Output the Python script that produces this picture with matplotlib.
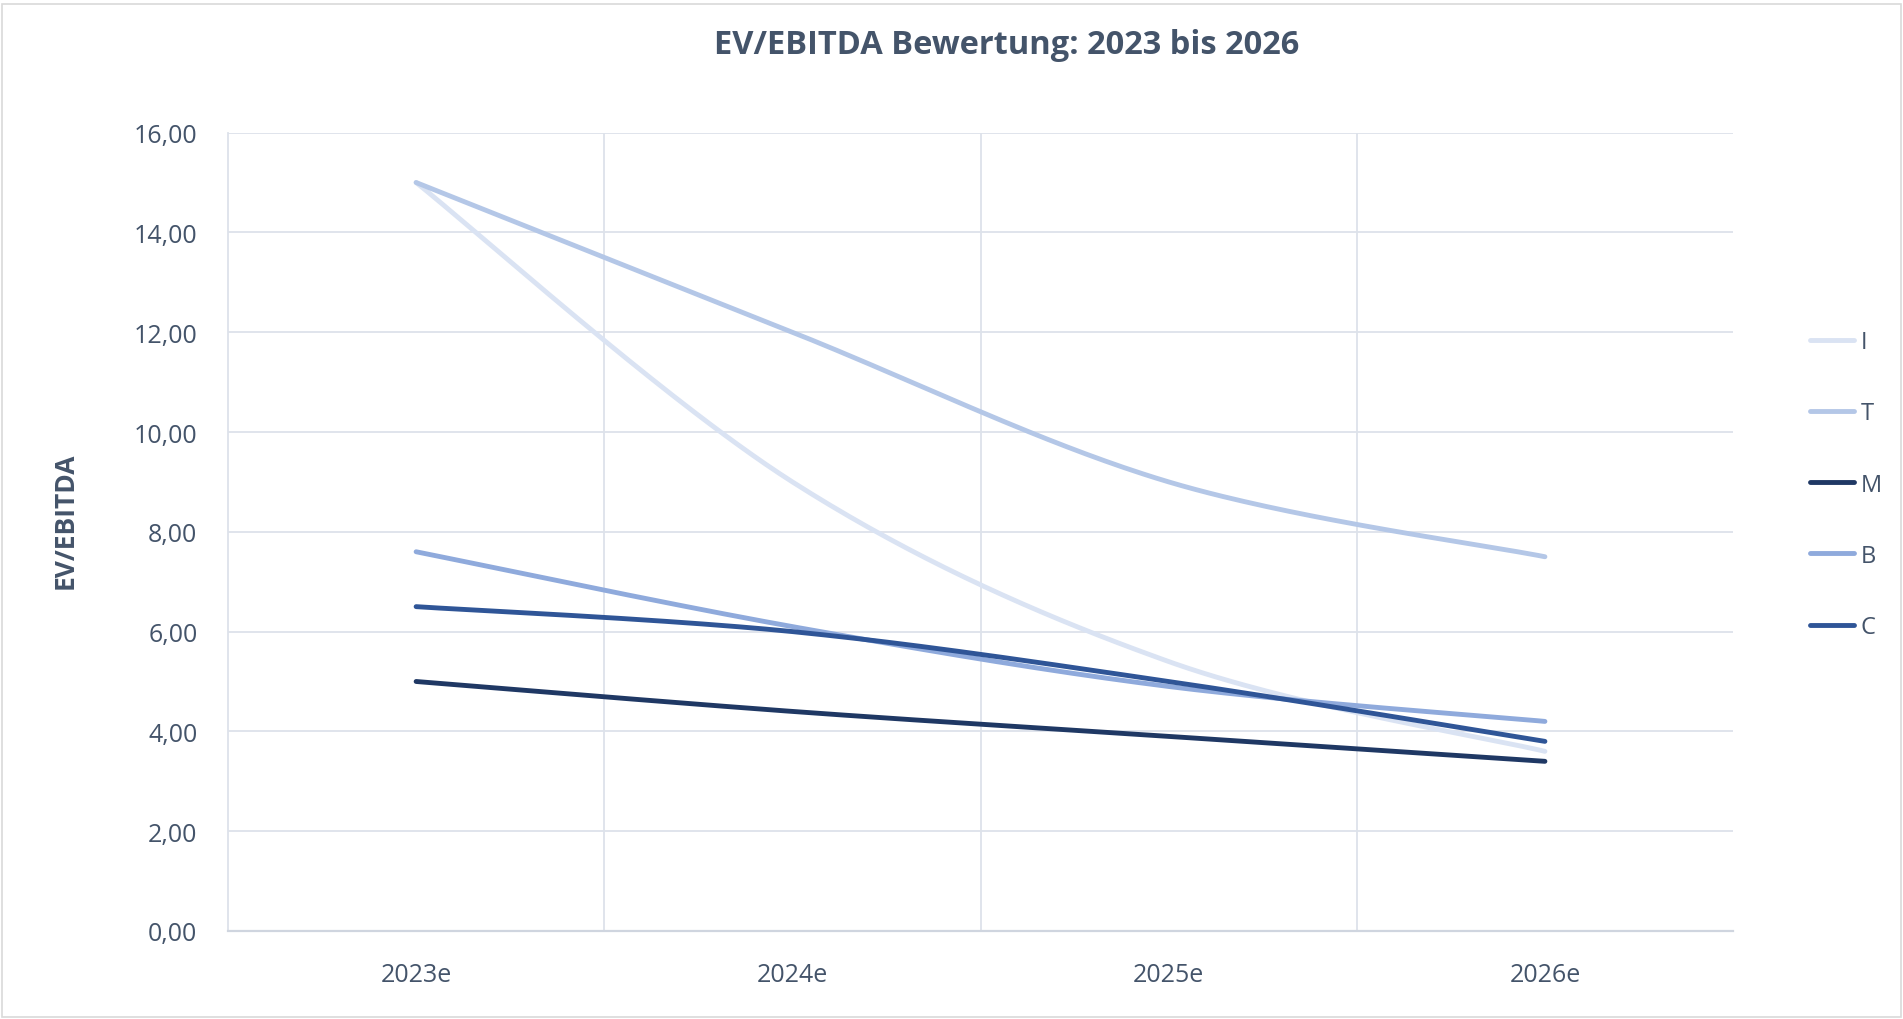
import numpy as np
import matplotlib
matplotlib.use("Agg")
import matplotlib.pyplot as plt
from matplotlib.patches import Rectangle

years = ["2023e", "2024e", "2025e", "2026e"]
series_names = ["I", "T", "M", "B", "C"]
i_vals = [15.0, 9.0, 5.4, 3.6]
t_vals = [15.0, 12.0, 9.0, 7.5]
m_vals = [5.0, 4.4, 3.9, 3.4]
b_vals = [7.6, 6.1, 4.9, 4.2]
c_vals = [6.5, 6.0, 5.0, 3.8]
colors = ["#DAE3F3", "#B4C7E7", "#1F3864", "#8FAADC", "#2F5597"]

text_col = "#44546A"
grid_col = "#DDE2EA"
font = ["Open Sans", "DejaVu Sans"]
plt.rcParams['font.family'] = font


def smooth(xs, ys, n=60):
    # excel style smoothed line: bezier with catmull-rom tangents
    xs = np.asarray(xs, float)
    ys = np.asarray(ys, float)
    pts = np.column_stack([xs, ys])
    out = []
    for k in range(len(pts) - 1):
        p0 = pts[k - 1] if k > 0 else pts[k]
        p1 = pts[k]
        p2 = pts[k + 1]
        p3 = pts[k + 2] if k + 2 < len(pts) else pts[k + 1]
        c1 = p1 + (p2 - p0) / 6
        c2 = p2 - (p3 - p1) / 6
        t = np.linspace(0, 1, n)[:, None]
        seg = ((1 - t) ** 3) * p1 + 3 * ((1 - t) ** 2) * t * c1 + 3 * (1 - t) * t ** 2 * c2 + t ** 3 * p2
        out.append(seg if k == 0 else seg[1:])
    out = np.vstack(out)
    return out[:, 0], out[:, 1]


fig = plt.figure(figsize=(19.03, 10.2), dpi=100)
ax = fig.add_axes([0.1198, 0.0863, 0.7909, 0.7827])

x = np.arange(len(years))
for name, vals, col in zip(series_names, [i_vals, t_vals, m_vals, b_vals, c_vals], colors):
    sx, sy = smooth(x, vals)
    ax.plot(sx, sy, color=col, lw=3.5, solid_capstyle="round", label=name)

ax.set_xlim(-0.5, len(years) - 0.5)
ax.set_ylim(0, 16)
ax.set_yticks(np.arange(0, 17, 2))
ax.set_yticklabels([f"{v:.2f}".replace(".", ",") for v in np.arange(0, 17, 2)])
ax.set_xticks(x)
ax.set_xticklabels(years)
ax.set_xticks(np.arange(0.5, len(years) - 1, 1), minor=True)

ax.grid(axis="y", color=grid_col, lw=1.3)
ax.grid(axis="x", which="minor", color=grid_col, lw=1.3)
ax.set_axisbelow(True)
for s in ["top", "right"]:
    ax.spines[s].set_visible(False)
ax.spines["left"].set_color(grid_col)
ax.spines["left"].set_linewidth(1.3)
ax.spines["bottom"].set_color("#CFD5DF")
ax.spines["bottom"].set_linewidth(1.6)
ax.tick_params(axis="both", which="both", length=0, colors=text_col, labelsize=18)
ax.tick_params(axis="y", pad=22)
ax.tick_params(axis="x", pad=22)

ax.set_ylabel("EV/EBITDA", fontsize=19, fontweight="bold", color=text_col)
ax.yaxis.set_label_coords(-0.099, 0.515)

fig.text(0.529, 0.955, "EV/EBITDA Bewertung: 2023 bis 2026", ha="center", va="center",
         fontsize=23.5, fontweight="bold", color=text_col)

leg = fig.legend(loc="center left", bbox_to_anchor=(0.940, 0.524), frameon=False,
                 fontsize=17, handlelength=1.85, labelspacing=2.0, handletextpad=0.3)
for t in leg.get_texts():
    t.set_color(text_col)

fig.patches.append(Rectangle((0.001, 0.002), 0.998, 0.993, transform=fig.transFigure,
                             fill=False, edgecolor="#D9D9D9", lw=1.2))

plt.savefig("out.png", dpi=100)
